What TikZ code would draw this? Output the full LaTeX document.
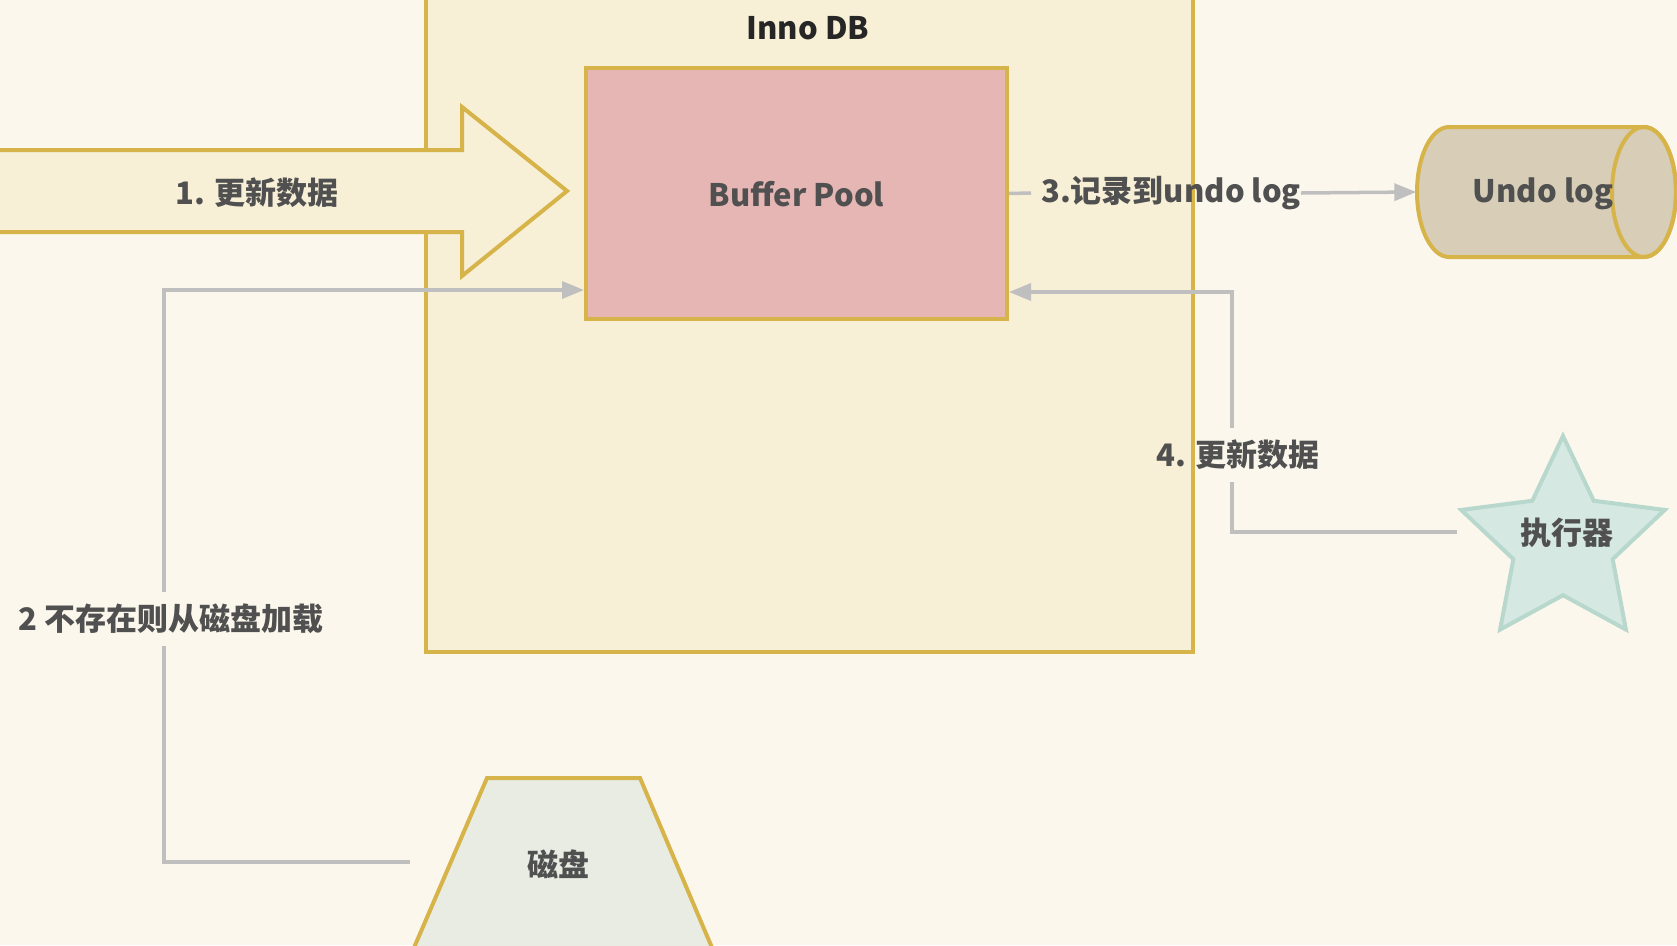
\documentclass[tikz,border=0pt]{standalone}
\usepackage{fontspec}
\setmainfont{Noto Sans CJK SC}
\usetikzlibrary{shapes.geometric,arrows.meta}
\definecolor{bgc}{HTML}{FBF7EC}
\definecolor{innof}{HTML}{F7EFD6}
\definecolor{ystroke}{HTML}{D7B44A}
\definecolor{bpf}{HTML}{E6B6B4}
\definecolor{undof}{HTML}{D8CEB8}
\definecolor{starf}{HTML}{D5E8E1}
\definecolor{stars}{HTML}{B8D8CD}
\definecolor{diskf}{HTML}{E8ECE3}
\definecolor{conc}{HTML}{BFBFBF}
\definecolor{txt}{HTML}{505050}
\begin{document}
\begin{tikzpicture}[x=1pt,y=-1pt,
  ybox/.style={draw=ystroke,line width=4pt},
  conn/.style={draw=conc,line width=3.5pt},
  arr/.style={conn,-{Triangle[length=22pt,width=17pt]}},
  lbl/.style={text=txt,font=\fontsize{31}{35}\selectfont\bfseries,inner sep=0pt},
  elbl/.style={lbl,inner xsep=4pt,inner ysep=12pt}]
\useasboundingbox (0,0) rectangle (1677,945);
\fill[bgc] (0,0) rectangle (1677,945);
% InnoDB container
\draw[ybox,fill=innof] (426,-10) rectangle (1193,652);
\node[lbl,text=black!85] (inno) at (808,28) {Inno DB};
% big arrow
\draw[ybox,fill=innof,line join=miter] (-10,150) -- (462,150) -- (462,107) -- (567,191) -- (462,276) -- (462,232) -- (-10,232) -- cycle;
\node[lbl] (l1) at (257,193) {1. 更新数据};
% buffer pool
\node[ybox,fill=bpf,minimum width=421pt,minimum height=251pt,inner sep=0pt,anchor=north west] (bp) at (584,66) {};
\node[lbl] at ([yshift=-1pt]bp.center) {Buffer Pool};
% undo log cylinder
\draw[ybox,fill=undof] (1644,127) -- (1449,127) arc[start angle=270,end angle=90,x radius=32,y radius=65] -- (1644,257) arc[start angle=90,end angle=-90,x radius=32,y radius=65] -- cycle;
\draw[ybox] (1644,192) ellipse[x radius=32,y radius=65];
\node[lbl,minimum width=259pt,minimum height=130pt] (undo) at (1546,192) {};
\node[lbl] at (1543,194) {Undo log};
% star
\node[star,star points=5,star point ratio=2.05,minimum size=214pt,inner sep=0pt,draw=stars,line width=4pt,fill=starf] (exec) at (1563,543) {};
\node[lbl] at (1567,533) {执行器};
% disk
\draw[ybox,fill=diskf] (413,950) -- (487,778) -- (640,778) -- (713,950);
\node[lbl] (disk) at (558,864) {磁盘};
% connector 3
\node[lbl,anchor=west] (l3) at (1041,193) {3.记录到undo log};
\draw[conn] (bp.east) -- ([xshift=-10pt]l3.west);
\draw[arr] (l3.east) -- (undo.west);
% connector 4
\coordinate (s4) at (1457,532);
\coordinate (v4) at (1232,292);
\node[elbl] (l4) at (1238,455) {4. 更新数据};
\draw[conn] (s4) -- (s4 -| v4) -- (l4.south -| v4);
\draw[arr] (l4.north -| v4) -- (v4) -- (v4 -| bp.east);
% connector 2
\coordinate (s2) at (410,862);
\coordinate (v2) at (164,290);
\node[elbl] (l2) at (171,619) {2 不存在则从磁盘加载};
\draw[conn] (s2) -- (s2 -| v2) -- (l2.south -| v2);
\draw[arr] (l2.north -| v2) -- (v2) -- (v2 -| bp.west);
\end{tikzpicture}
\end{document}
